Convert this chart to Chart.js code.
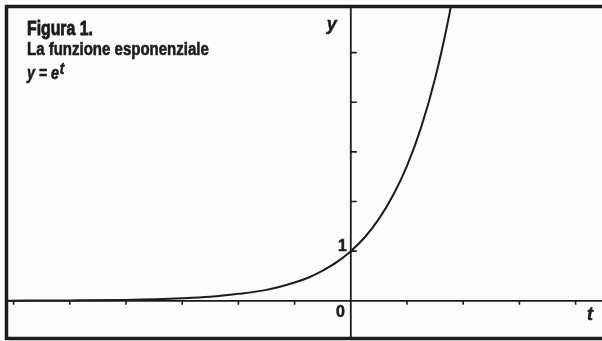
<!DOCTYPE html>
<html>
<head>
<meta charset="utf-8">
<script src="https://cdn.jsdelivr.net/npm/chart.js@4.4.0/dist/chart.umd.min.js"></script>
<style>
  html, body { margin: 0; padding: 0; background: #fcfcfb; }
  #wrap { position: relative; width: 602px; height: 341px; }
  #title {
    position: absolute; left: 27px; top: 18px;
    font-family: "Liberation Sans", Arial, sans-serif;
    font-weight: bold; color: #1c1c1c; line-height: 1;
    transform: scaleX(0.79); transform-origin: 0 0;
    white-space: nowrap;
    -webkit-text-stroke: 0.6px #1c1c1c;
  }
  #title .t1 { font-size: 20px; height: 21px; -webkit-text-stroke: 0.9px #1c1c1c; }
  #title .t2 { font-size: 19px; height: 20px; }
  #title .t3 { font-size: 18px; font-style: italic; margin-top: 1px; }
  #title sup { font-size: 17px; vertical-align: 5px; margin-left: 1px; }
</style>
</head>
<body>
<div id="wrap">
  <canvas id="chart" width="602" height="341"></canvas>
  <div id="title">
    <div class="t1">Figura 1.</div>
    <div class="t2">La funzione esponenziale</div>
    <div class="t3">y = e<sup>t</sup></div>
  </div>
</div>
<script>
// values
const tValues = [-6.1, -5, -4, -3, -2.5, -2, -1.5, -1, -0.75, -0.5, -0.25, 0, 0.25, 0.5, 0.75, 1, 1.25, 1.5, 1.75, 1.9]
const yValues = [0.002, 0.007, 0.018, 0.05, 0.08, 0.14, 0.22, 0.37, 0.47, 0.61, 0.78, 1, 1.28, 1.65, 2.12, 2.72, 3.49, 4.48, 5.75, 6.69]
const xTicks = [-6, -5, -4, -3, -2, -1, 1, 2, 3, 4]
const yTicks = [1, 2, 3, 4, 5]
const ink = '#1c1c1c'

const axesPlugin = {
  id: 'printAxes',
  beforeDatasetsDraw(chart) {
    const { ctx, scales: { x, y } } = chart
    const x0 = x.getPixelForValue(0)
    const y0 = y.getPixelForValue(0)
    ctx.save()
    ctx.strokeStyle = ink
    // frame
    ctx.lineWidth = 3.5
    ctx.beginPath()
    ctx.moveTo(602, 6.5); ctx.lineTo(6.5, 6.5); ctx.lineTo(6.5, 338.5); ctx.lineTo(602, 338.5)
    ctx.stroke()
    // axes
    ctx.lineWidth = 1.8
    ctx.beginPath()
    ctx.moveTo(x.left, y0); ctx.lineTo(x.right, y0)
    ctx.moveTo(x0, y.top); ctx.lineTo(x0, y.bottom)
    ctx.stroke()
    ctx.lineWidth = 1.6
    ctx.beginPath()
    xTicks.forEach(v => {
      const px = x.getPixelForValue(v)
      ctx.moveTo(px, y0); ctx.lineTo(px, y0 + 4)
    })
    yTicks.forEach(v => {
      const py = y.getPixelForValue(v)
      ctx.moveTo(x0, py); ctx.lineTo(x0 + 6, py)
    })
    ctx.stroke()
    // labels
    ctx.fillStyle = ink
    ctx.strokeStyle = ink
    ctx.lineWidth = 0.5
    ctx.font = 'bold 16px "Liberation Sans", Arial, sans-serif'
    ctx.textAlign = 'right'
    ctx.textBaseline = 'middle'
    ctx.fillText('0', x0 - 6, y0 + 12)
    ctx.strokeText('0', x0 - 6, y0 + 12)
    ctx.fillText('1', x0 - 4, y.getPixelForValue(1) - 5)
    ctx.strokeText('1', x0 - 4, y.getPixelForValue(1) - 5)
    ctx.font = 'italic bold 18px "Liberation Sans", Arial, sans-serif'
    ctx.textAlign = 'center'
    ctx.fillText('y', x0 - 19, 25)
    ctx.strokeText('y', x0 - 19, 25)
    ctx.fillText('t', 590, y0 + 14)
    ctx.strokeText('t', 590, y0 + 14)
    ctx.restore()
  }
}

new Chart(document.getElementById('chart'), {
  type: 'scatter',
  data: {
    datasets: [{
      data: tValues.map((t, i) => ({ x: t, y: yValues[i] })),
      showLine: true,
      borderColor: ink,
      borderWidth: 2,
      pointRadius: 0,
      cubicInterpolationMode: 'monotone'
    }]
  },
  options: {
    responsive: false,
    animation: false,
    layout: { padding: { left: 8, right: 0, top: 7, bottom: 3 } },
    scales: {
      x: { type: 'linear', min: -6.1, max: 4.47, display: false },
      y: { type: 'linear', min: -0.75, max: 5.92, display: false }
    },
    plugins: { legend: { display: false }, tooltip: { enabled: false } }
  },
  plugins: [axesPlugin]
})
</script>
</body>
</html>
